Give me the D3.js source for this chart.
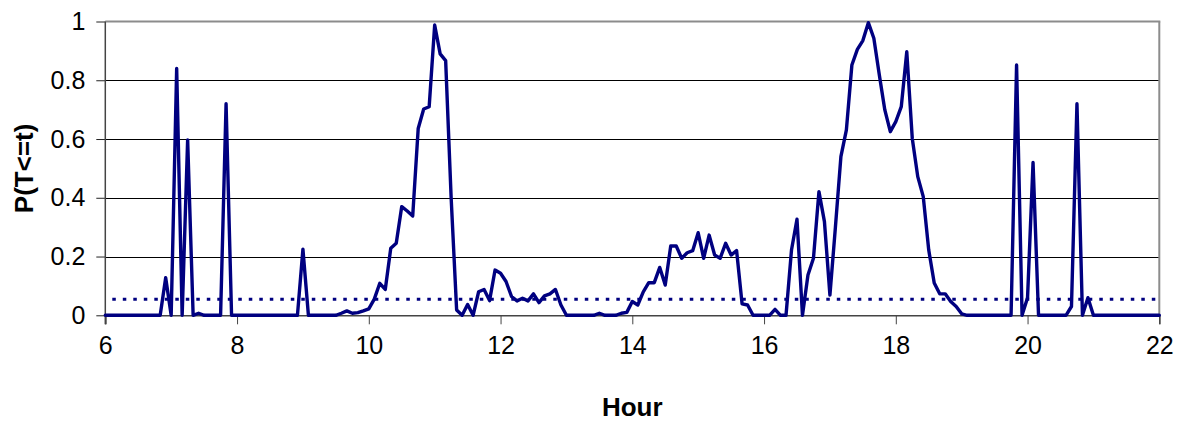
<!DOCTYPE html>
<html>
<head>
<meta charset="utf-8">
<script src="https://cdn.jsdelivr.net/npm/d3@7"></script>
<style>
  html, body { margin: 0; padding: 0; background: #fff; }
  svg { display: block; }
  text { font-family: "Liberation Sans", Arial, sans-serif; fill: #000; }
</style>
</head>
<body>
<svg id="chart" width="1181" height="421"></svg>
<script>
// ---- data (5-minute steps from 06:00 to 22:00) ----
const startHour = 6;
const stepMinutes = 5;
const probValues = [
  0,0,0,0,0,0,0,0,0,0,            // 0-9
  0,0.128,0,0.84,0,0.597,0,0.007,0,0, // 10-19
  0,0,0.72,0,0,0,0,0,0,0,         // 20-29
  0,0,0,0,0,0,0.225,0,0,0,        // 30-39
  0,0,0,0.007,0.015,0.007,0.009,0.015,0.022,0.055, // 40-49
  0.109,0.088,0.228,0.245,0.37,0.355,0.338,0.636,0.702,0.71, // 50-59
  0.988,0.89,0.867,0.4,0.018,0,0.037,0,0.08,0.088, // 60-69
  0.05,0.154,0.143,0.115,0.064,0.049,0.058,0.049,0.073,0.043, // 70-79
  0.066,0.073,0.088,0.035,0,0,0,0,0,0, // 80-89
  0.007,0,0,0,0.007,0.01,0.047,0.035,0.08,0.111, // 90-99
  0.111,0.163,0.103,0.236,0.236,0.194,0.213,0.22,0.281,0.194, // 100-109
  0.273,0.205,0.194,0.245,0.205,0.22,0.039,0.035,0,0, // 110-119
  0,0,0.02,0,0,0.222,0.327,0,0.137,0.194, // 120-129
  0.421,0.319,0.069,0.3,0.54,0.631,0.852,0.905,0.935,0.996, // 130-139
  0.943,0.818,0.699,0.625,0.659,0.71,0.897,0.602,0.472,0.404, // 140-149
  0.222,0.11,0.073,0.073,0.047,0.03,0.005,0,0,0, // 150-159
  0,0,0,0,0,0,0.852,0,0.06,0.52, // 160-169
  0,0,0,0,0,0,0.03,0.72,0,0.06, // 170-179
  0,0,0,0,0,0,0,0,0,0, // 180-189
  0,0,0 // 190-192
];
const thresholdValue = 0.055;
const xTickValues = [6, 8, 10, 12, 14, 16, 18, 20, 22];
const yTickValues = [0, 0.2, 0.4, 0.6, 0.8, 1];
const xTitle = "Hour";
const yTitle = "P(T<=t)";

const points = probValues.map((v, i) => ({ hour: startHour + i * stepMinutes / 60, value: v }));

// ---- layout ----
const svg = d3.select("#chart");
const plotLeft = 105.3, plotRight = 1159.3, plotTop = 21.5, plotBottom = 315.3;

const x = d3.scaleLinear().domain([6, 22]).range([plotLeft, plotRight]);
const y = d3.scaleLinear().domain([0, 1]).range([plotBottom, plotTop]);

// gridlines
svg.append("g")
  .selectAll("line")
  .data(yTickValues.filter(d => d > 0 && d < 1))
  .join("line")
  .attr("x1", plotLeft).attr("x2", plotRight)
  .attr("y1", d => Math.round(y(d)) + 0.5).attr("y2", d => Math.round(y(d)) + 0.5)
  .attr("stroke", "#000").attr("stroke-width", 1)
  .attr("shape-rendering", "crispEdges");

// plot border (top and right, gray)
svg.append("line")
  .attr("x1", plotLeft).attr("x2", plotRight + 1)
  .attr("y1", y(1)).attr("y2", y(1))
  .attr("stroke", "#8c8c8c").attr("stroke-width", 2);
svg.append("line")
  .attr("x1", plotRight).attr("x2", plotRight)
  .attr("y1", y(1)).attr("y2", y(0))
  .attr("stroke", "#8c8c8c").attr("stroke-width", 2);

// y axis
const yAxis = d3.axisLeft(y).tickValues(yTickValues)
  .tickFormat(d3.format("~g")).tickSize(9).tickPadding(11);
const gy = svg.append("g").attr("transform", `translate(${plotLeft},0)`).call(yAxis);
gy.select(".domain").remove();
gy.selectAll(".tick line").attr("stroke", "#222");
gy.selectAll("text").attr("font-size", 25).attr("font-family", "Liberation Sans, Arial, sans-serif");
svg.append("line")
  .attr("x1", plotLeft).attr("x2", plotLeft)
  .attr("y1", y(1)).attr("y2", y(0) + 9)
  .attr("stroke", "#444").attr("stroke-width", 1.5);

// x axis
const xAxis = d3.axisBottom(x).tickValues(xTickValues)
  .tickFormat(d3.format("d")).tickSize(9).tickPadding(12);
const gx = svg.append("g").attr("transform", `translate(0,${plotBottom})`).call(xAxis);
gx.select(".domain").attr("stroke", "#444").attr("stroke-width", 1.5);
gx.selectAll(".tick line").attr("stroke", "#444");
gx.selectAll("text").attr("font-size", 25).attr("font-family", "Liberation Sans, Arial, sans-serif");

// threshold dotted line
svg.append("line")
  .attr("x1", x(6) + 7).attr("x2", plotRight)
  .attr("y1", y(thresholdValue)).attr("y2", y(thresholdValue))
  .attr("stroke", "#000080").attr("stroke-width", 3)
  .attr("stroke-dasharray", "3.5,7");

// data line
const line = d3.line().x(d => x(d.hour)).y(d => y(d.value));
svg.append("path")
  .datum(points)
  .attr("d", line)
  .attr("fill", "none")
  .attr("stroke", "#000080")
  .attr("stroke-width", 3.4)
  .attr("stroke-linejoin", "round")
  .attr("stroke-linecap", "round");

// titles
svg.append("text")
  .attr("x", (plotLeft + plotRight) / 2).attr("y", 416)
  .attr("text-anchor", "middle")
  .attr("font-size", 26).attr("font-weight", "bold")
  .text(xTitle);
svg.append("text")
  .attr("transform", `translate(33,${(plotTop + plotBottom) / 2}) rotate(-90)`)
  .attr("text-anchor", "middle")
  .attr("font-size", 26).attr("font-weight", "bold")
  .text(yTitle);
</script>
</body>
</html>
